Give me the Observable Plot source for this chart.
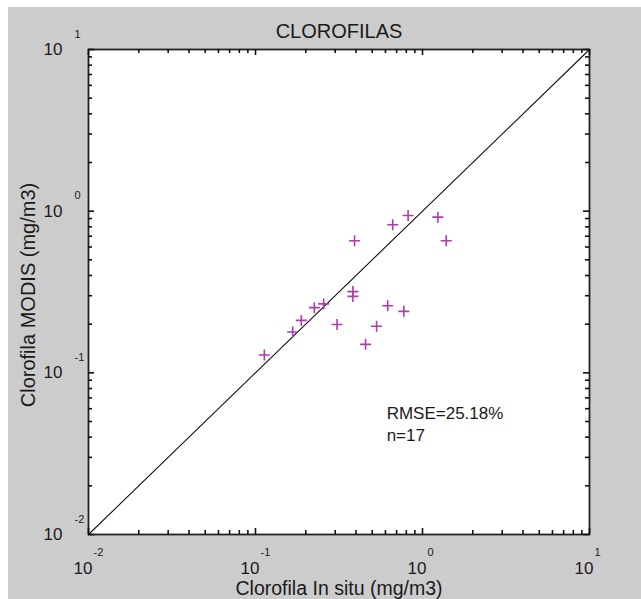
<!DOCTYPE html>
<html>
<head>
<meta charset="utf-8">
<script src="https://cdn.jsdelivr.net/npm/d3@7"></script>
<script src="https://cdn.jsdelivr.net/npm/@observablehq/plot@0.6"></script>
<style>
  html, body { margin: 0; padding: 0; background: #ffffff; }
  #wrap { position: relative; width: 641px; height: 599px; overflow: hidden; }
  #bg { position: absolute; left: 8px; top: 7px; right: 0; bottom: 0; background: #cccccc; }
  #chart { position: absolute; left: 0; top: 0; }
</style>
</head>
<body>
<div id="wrap"><div id="bg"></div><div id="chart"></div></div>
<script>
// ---- data ----
const title = "CLOROFILAS";
const xLabel = "Clorofila In situ (mg/m3)";
const yLabel = "Clorofila MODIS (mg/m3)";
const statsText = ["RMSE=25.18%", "n=17"];

const inSitu = [0.113, 0.167, 0.188, 0.225, 0.256, 0.308, 0.383, 0.383, 0.392,
                0.456, 0.531, 0.619, 0.773, 0.663, 0.820, 1.236, 1.387];
const modis  = [0.129, 0.179, 0.211, 0.253, 0.267, 0.199, 0.318, 0.297, 0.656,
                0.150, 0.194, 0.260, 0.240, 0.824, 0.940, 0.918, 0.656];

const majorTicks = [0.01, 0.1, 1, 10];
const tickBase = ["10", "10", "10", "10"];
const tickExp = ["-2", "-1", "0", "1"];
const minorMultipliers = [2, 3, 4, 5, 6, 7, 8, 9];
const domain = [0.01, 10];

// ---- derived tables ----
const points = inSitu.map((x, i) => ({x, y: modis[i]}));
const minorTicks = majorTicks.slice(0, -1).flatMap(d => minorMultipliers.map(m => d * m));
const diag = domain.map(v => ({x: v, y: v}));
const majors = majorTicks.map((v, i) => ({v, base: tickBase[i], exp: tickExp[i]}));

// layout
const W = 641, H = 599;
const mT = 49, mB = 65, mL = 88, mR = 52;
const fw = W - mL - mR, fh = H - mT - mB;
const majLen = 6, minLen = 4;
const ink = "#1a1a1a";

const plusSymbol = {
  draw(ctx, size) {
    const r = Math.sqrt(size / Math.PI);
    ctx.moveTo(-r, 0); ctx.lineTo(r, 0);
    ctx.moveTo(0, -r); ctx.lineTo(0, r);
  }
};

const tickStyle = {stroke: "#111", strokeWidth: 1.6};

const chart = Plot.plot({
  width: W, height: H,
  marginTop: mT, marginBottom: mB, marginLeft: mL, marginRight: mR,
  style: {background: "transparent", fontFamily: "'Liberation Sans', Arial, Helvetica, sans-serif", color: ink},
  x: {type: "log", domain, axis: null},
  y: {type: "log", domain, axis: null},
  marks: [
    Plot.frame({fill: "white"}),
    // 1:1 line
    Plot.line(diag, {x: "x", y: "y", stroke: "#111", strokeWidth: 1.1}),
    // points
    Plot.dot(points, {x: "x", y: "y", symbol: plusSymbol, r: 5.5, stroke: "#ad3cad", strokeWidth: 1.6, fill: "none"}),
    Plot.frame({stroke: "#222", strokeWidth: 1.8}),
    // ticks bottom/top
    Plot.ruleX(majorTicks, {x: d => d, insetTop: fh - majLen, ...tickStyle}),
    Plot.ruleX(minorTicks, {x: d => d, insetTop: fh - minLen, ...tickStyle}),
    Plot.ruleX(majorTicks, {x: d => d, insetBottom: fh - majLen, ...tickStyle}),
    Plot.ruleX(minorTicks, {x: d => d, insetBottom: fh - minLen, ...tickStyle}),
    // ticks left/right
    Plot.ruleY(majorTicks, {y: d => d, insetRight: fw - majLen, ...tickStyle}),
    Plot.ruleY(minorTicks, {y: d => d, insetRight: fw - minLen, ...tickStyle}),
    Plot.ruleY(majorTicks, {y: d => d, insetLeft: fw - majLen, ...tickStyle}),
    Plot.ruleY(minorTicks, {y: d => d, insetLeft: fw - minLen, ...tickStyle}),
    // x tick labels
    Plot.text(majors, {x: "v", text: "base", frameAnchor: "bottom", textAnchor: "end", lineAnchor: "bottom", dx: 4, dy: 39, fontSize: 17, fill: ink}),
    Plot.text(majors, {x: "v", text: "exp", frameAnchor: "bottom", textAnchor: "start", lineAnchor: "bottom", dx: 5, dy: 21, fontSize: 11, fill: ink}),
    // y tick labels
    Plot.text(majors, {y: "v", text: "base", frameAnchor: "left", textAnchor: "end", lineAnchor: "middle", dx: -26, fontSize: 17, fill: ink}),
    Plot.text(majors, {y: "v", text: "exp", frameAnchor: "left", textAnchor: "start", lineAnchor: "bottom", dx: -14, dy: -12, fontSize: 11, fill: ink}),
    // titles
    Plot.text([title], {frameAnchor: "top", lineAnchor: "bottom", dy: -12, fontSize: 20, fill: ink}),
    Plot.text([xLabel], {frameAnchor: "bottom", lineAnchor: "bottom", dy: 60, fontSize: 19.5, fill: ink}),
    Plot.text([yLabel], {frameAnchor: "left", textAnchor: "middle", lineAnchor: "bottom", rotate: -90, dx: -54, dy: 3, fontSize: 20, fill: ink}),
    // stats annotation
    Plot.text([statsText.join("\n")], {x: [0.61], y: [0.0647], textAnchor: "start", lineAnchor: "top", lineHeight: 1.3, fontSize: 17, fill: ink})
  ]
});
document.getElementById("chart").appendChild(chart);
</script>
</body>
</html>
